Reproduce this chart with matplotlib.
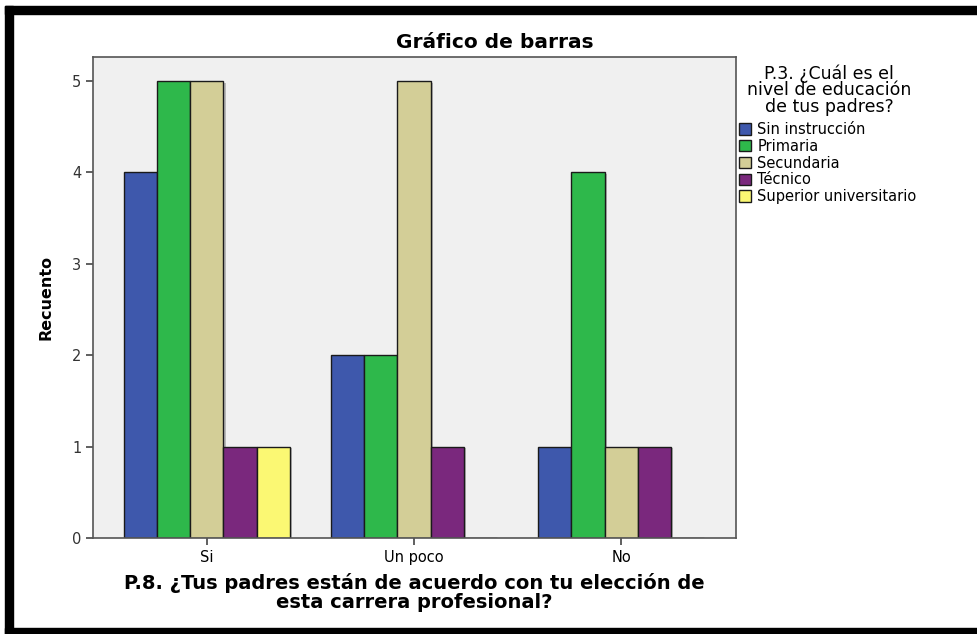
import numpy as np
import matplotlib.pyplot as plt
from matplotlib.patches import Rectangle, Patch

plt.rcParams['font.family'] = ['DejaVu Sans']

categories = ['Si', 'Un poco', 'No']
levels = ['Sin instrucción', 'Primaria', 'Secundaria', 'Técnico', 'Superior universitario']
counts = {
    'Sin instrucción': [4, 2, 1],
    'Primaria': [5, 2, 4],
    'Secundaria': [5, 5, 1],
    'Técnico': [1, 1, 1],
    'Superior universitario': [1, 0, 0],
}
colors = ['#3E58AC', '#2EB84B', '#D3CE97', '#7A287D', '#FBF873']

W, H = 977, 634
fig = plt.figure(figsize=(W / 100, H / 100), dpi=100)
ax = fig.add_axes([93 / W, 1 - 538 / H, (736 - 93) / W, (538 - 57) / H])
ax.set_facecolor('#F0F0F0')

x = np.arange(len(categories))
bw = 0.16
for i, lev in enumerate(levels):
    offs = (i - 2) * bw
    vals = counts[lev]
    # subtle shadow
    ax.bar(x + offs + 0.012, [v - 0.02 if v else 0 for v in vals], bw,
           color='#B8B8B8', edgecolor='none', zorder=1)
    ax.bar(x + offs, vals, bw, color=colors[i], edgecolor='#1A1A1A',
           linewidth=1.0, zorder=2)

ax.set_xlim(-0.55, 2.555)
ax.set_ylim(0, 5.26)
ax.set_xticks(x)
ax.set_xticklabels(categories, fontsize=10.5)
ax.set_yticks(range(6))
ax.set_yticklabels([str(v) for v in range(6)], fontsize=10.5, color='#333333')
ax.tick_params(axis='both', direction='out', length=5, width=1.2, color='#444444')
for s in ax.spines.values():
    s.set_color('#555555')
    s.set_linewidth(1.2)

ax.set_ylabel('Recuento', fontsize=11.5, fontweight='bold', labelpad=13)
ax.set_xlabel('P.8. ¿Tus padres están de acuerdo con tu elección de\nesta carrera profesional?',
              fontsize=14, fontweight='bold', labelpad=6, linespacing=1.0)
fig.text(495 / W, 1 - 42 / H, 'Gráfico de barras', fontsize=14.5, fontweight='bold',
         ha='center', va='center')

# legend title
fig.text(829 / W, 1 - 90 / H, 'P.3. ¿Cuál es el\nnivel de educación\nde tus padres?',
         fontsize=12.5, ha='center', va='center', multialignment='center', linespacing=0.88)

handles = [Patch(facecolor=c, edgecolor='#1A1A1A', linewidth=1) for c in colors]
leg = fig.legend(handles, levels, loc='upper left', bbox_to_anchor=(739 / W, 1 - 122 / H),
                 frameon=False, fontsize=10.5, handlelength=0.8, handleheight=0.8,
                 handletextpad=0.45, labelspacing=0.12, borderaxespad=0, borderpad=0)

# black frame on left, top and bottom
fig.add_artist(Rectangle((5 / W, 0), 8 / W, 1 - 6 / H, transform=fig.transFigure,
                         color='black', zorder=10))
fig.add_artist(Rectangle((5 / W, 1 - 14 / H), 1, 8 / H, transform=fig.transFigure,
                         color='black', zorder=10))
fig.add_artist(Rectangle((5 / W, 0), 1, 6 / H, transform=fig.transFigure,
                         color='black', zorder=10))

fig.savefig('out.png', dpi=100)
